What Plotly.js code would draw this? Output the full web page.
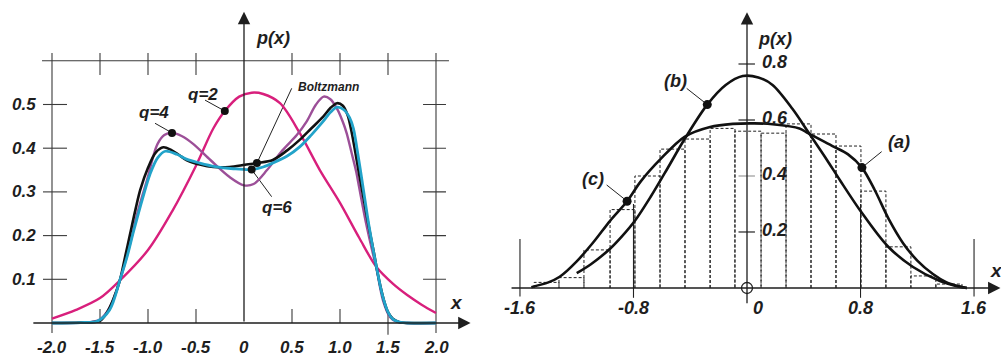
<!DOCTYPE html>
<html><head><meta charset="utf-8">
<script src="https://cdn.plot.ly/plotly-3.0.1.min.js"></script>
<style>html,body{margin:0;padding:0;background:#fff;overflow:hidden}#chart{width:1001px;height:356px}</style>
</head><body><div id="chart"></div>
<script>
// ---------- LEFT PANEL DATA ----------
const q2X = [-2.0,-1.75,-1.5,-1.29,-1.0,-0.75,-0.5,-0.32,-0.2,-0.05,0.08,0.2,0.375,0.58,0.79,1.0,1.2,1.38,1.55,1.7,1.85,2.0];
const q2Y = [0.010,0.030,0.057,0.098,0.167,0.255,0.36,0.445,0.485,0.518,0.527,0.524,0.503,0.435,0.35,0.275,0.195,0.128,0.09,0.064,0.042,0.023];

const q4X = [-2.0,-1.6,-1.5,-1.4,-1.29,-1.2,-1.1,-1.0,-0.95,-0.9,-0.83,-0.75,-0.65,-0.53,-0.35,-0.15,0.0,0.1,0.24,0.4,0.55,0.65,0.75,0.83,0.9,0.97,1.03,1.07,1.12,1.17,1.2,1.27,1.35,1.38,1.45,1.52,1.59,1.7,2.0];
const q4Y = [0,0.002,0.008,0.035,0.10,0.17,0.26,0.335,0.378,0.41,0.43,0.435,0.428,0.41,0.373,0.334,0.315,0.318,0.35,0.395,0.43,0.46,0.5,0.518,0.512,0.49,0.46,0.434,0.39,0.345,0.31,0.23,0.152,0.125,0.05,0.014,0.003,0,0];

const q6X = [-2.0,-1.7,-1.53,-1.4,-1.29,-1.22,-1.15,-1.05,-0.98,-0.9,-0.82,-0.7,-0.6,-0.46,-0.3,-0.11,0.08,0.2,0.3,0.45,0.58,0.7,0.82,0.9,0.97,1.04,1.1,1.14,1.18,1.23,1.3,1.38,1.44,1.5,1.55,1.62,1.7,2.0];
const q6Y = [0,0.001,0.004,0.03,0.10,0.15,0.21,0.29,0.34,0.378,0.393,0.386,0.375,0.366,0.358,0.353,0.351,0.357,0.366,0.382,0.403,0.43,0.46,0.482,0.494,0.488,0.47,0.445,0.395,0.325,0.225,0.128,0.065,0.025,0.009,0.002,0,0];

const boltzX = [-2.0,-1.7,-1.5,-1.43,-1.36,-1.29,-1.24,-1.19,-1.13,-1.08,-1.0,-0.92,-0.84,-0.76,-0.68,-0.6,-0.45,-0.32,-0.15,0.01,0.135,0.3,0.45,0.58,0.7,0.82,0.9,0.97,1.03,1.08,1.12,1.16,1.2,1.25,1.3,1.35,1.38,1.42,1.46,1.5,1.55,1.62,1.7,2.0];
const boltzY = [0,0.001,0.005,0.023,0.055,0.10,0.15,0.20,0.26,0.305,0.355,0.39,0.402,0.396,0.385,0.373,0.362,0.357,0.357,0.362,0.366,0.373,0.395,0.419,0.445,0.471,0.492,0.503,0.497,0.475,0.438,0.39,0.34,0.28,0.22,0.165,0.128,0.085,0.05,0.025,0.01,0.002,0,0];

const leftXTicks = [-2.0,-1.5,-1.0,-0.5,0,0.5,1.0,1.5,2.0];
const leftXTickText = ['-2.0','-1.5','-1.0','-0.5','0','0.5','1.0','1.5','2.0'];
const leftYTicks = [0.1,0.2,0.3,0.4,0.5];
const leftYTickText = ['0.1','0.2','0.3','0.4','0.5'];

// ---------- RIGHT PANEL DATA ----------
const histEdges = [-1.50,-1.325,-1.149,-0.965,-0.79,-0.613,-0.437,-0.26,-0.085,0.099,0.275,0.451,0.627,0.803,0.979,1.155,1.331,1.515];
const histHeights = [0.02,0.037,0.136,0.28,0.40,0.496,0.532,0.57,0.56,0.553,0.586,0.55,0.507,0.346,0.147,0.043,0.014];

const curveAX = [-1.52,-1.4,-1.32,-1.2,-1.08,-0.965,-0.845,-0.75,-0.61,-0.44,-0.26,-0.1,0.05,0.18,0.37,0.43,0.61,0.71,0.81,0.9,1.0,1.1,1.2,1.31,1.4,1.5,1.55];
const curveAY = [0.003,0.02,0.04,0.095,0.165,0.24,0.31,0.38,0.46,0.54,0.575,0.586,0.588,0.585,0.57,0.553,0.505,0.478,0.43,0.35,0.245,0.16,0.098,0.05,0.022,0.005,0];

const curveBX = [-1.2,-1.1,-0.965,-0.88,-0.79,-0.68,-0.58,-0.43,-0.28,-0.15,-0.03,0.08,0.18,0.32,0.43,0.56,0.655,0.8,0.99,1.17,1.36,1.5,1.55];
const curveBY = [0.053,0.085,0.14,0.185,0.24,0.325,0.41,0.54,0.655,0.725,0.757,0.752,0.725,0.64,0.558,0.46,0.385,0.275,0.15,0.075,0.025,0.004,0];

const rightXTicks = [-1.6,-0.8,0,0.8,1.6];
const rightXTickText = ['-1.6','-0.8','0','0.8','1.6'];
const rightYTicks = [0.2,0.4,0.6,0.8];
const rightYTickText = ['0.2','0.4','0.6','0.8'];

// ---------- labelled points (series + index into that series) ----------
const leftLabels = [
  {text:'q=2', xs:q2X, ys:q2Y, i:8,  lx:-0.43, ly:0.523, sx:-0.406, sy:0.510, size:17},
  {text:'q=4', xs:q4X, ys:q4Y, i:11, lx:-0.94, ly:0.481, sx:-0.927, sy:0.457, size:17},
  {text:'Boltzmann', xs:boltzX, ys:boltzY, i:20, lx:0.885, ly:0.541, sx:0.497, sy:0.537, size:12},
  {text:'q=6', xs:q6X, ys:q6Y, i:16, lx:0.345, ly:0.265, sx:0.288, sy:0.289, size:17}
];
const rightLabels = [
  {text:'(b)', xs:curveBX, ys:curveBY, i:8,  lx:-0.507, ly:0.738, sx:-0.425, sy:0.713},
  {text:'(a)', xs:curveAX, ys:curveAY, i:18, lx:1.068, ly:0.523, sx:0.949, sy:0.487},
  {text:'(c)', xs:curveAX, ys:curveAY, i:6,  lx:-1.085, ly:0.388, sx:-0.989, sy:0.368}
];

const FONT = 'Liberation Sans, Arial, Helvetica, sans-serif';
const INK = '#1e1e1e';
const traces = [];

function curve(xs, ys, color, w, xa, ya){
  return {x:xs, y:ys, type:'scatter', mode:'lines', xaxis:xa, yaxis:ya,
    line:{color:color, width:w, shape:'spline', smoothing:0.9}, hoverinfo:'skip'};
}
traces.push(curve(q2X,q2Y,'#d81f7c',2.4,'x','y'));
traces.push(curve(q4X,q4Y,'#9c4f98',2.4,'x','y'));
traces.push(curve(boltzX,boltzY,'#111111',2.6,'x','y'));
traces.push(curve(q6X,q6Y,'#22a3c9',2.8,'x','y'));

// histogram outline (dashed) built from edges / heights
const hx = [], hy = [];
histHeights.forEach((h,k)=>{
  const a = histEdges[k], b = histEdges[k+1];
  hx.push(a,a,b,b,null); hy.push(0,h,h,0,null);
});
traces.push({x:hx, y:hy, type:'scatter', mode:'lines', xaxis:'x2', yaxis:'y2',
  line:{color:'#222', width:1, dash:'3px,2px'}, hoverinfo:'skip', connectgaps:false});
traces.push(curve(curveAX,curveAY,'#111111',2.6,'x2','y2'));
traces.push(curve(curveBX,curveBY,'#111111',2.6,'x2','y2'));

// markers on curves
traces.push({x:leftLabels.map(l=>l.xs[l.i]), y:leftLabels.map(l=>l.ys[l.i]), type:'scatter', mode:'markers',
  xaxis:'x', yaxis:'y', marker:{color:'#111', size:8}, hoverinfo:'skip'});
traces.push({x:rightLabels.map(l=>l.xs[l.i]), y:rightLabels.map(l=>l.ys[l.i]), type:'scatter', mode:'markers',
  xaxis:'x2', yaxis:'y2', marker:{color:'#111', size:9}, hoverinfo:'skip'});
// origin open circle on right panel
traces.push({x:[rightXTicks[2]], y:[0], type:'scatter', mode:'markers', xaxis:'x2', yaxis:'y2',
  marker:{color:'#fff', size:11, line:{color:'#222', width:1.3}}, hoverinfo:'skip', cliponaxis:false});

// ---------- shapes ----------
const shapes = [];
function ln(xr, yr, x0, y0, x1, y1, color, w){
  shapes.push({type:'line', xref:xr, yref:yr, x0:x0, y0:y0, x1:x1, y1:y1, line:{color:color||'#3a3a3a', width:w||1.1}, layer:'below'});
}
// left frame
ln('x','y',-2.104,0.6,2.135,0.6);
ln('x','y',leftXTicks[0],-0.023,leftXTicks[0],0.618);
ln('x','y',leftXTicks[8],-0.023,leftXTicks[8],0.618);
leftXTicks.forEach(v=>{
  if (Math.abs(v) > 1.9 || v === 0) return;
  ln('x','y',v,0.5675,v,0.618);          // top ticks
  if (v === 1.5) ln('x','y',v,-0.027,v,0.03);
  else ln('x','y',v,0,v,0.032);         // bottom ticks
});
leftYTicks.forEach(v=>{
  ln('x','y',-2.094,v,-1.844,v);
  ln('x','y',1.865,v,2.104,v);
});
// right ticks
rightXTicks.forEach(v=>{
  if (v === 0) return;
  if (Math.abs(v) > 1.5) ln('x2','y2',v,-0.03,v,0.175,'#222',1.1);
  else ln('x2','y2',v,-0.035,v,0.3,'#222',1.1);
});
rightYTicks.forEach(v=>{
  ln('x2','y2',-0.06,v,0.056,v, v===0.4 ? '#9a9a9a' : '#222', 1.2);
});
// leader lines
leftLabels.forEach(l=>ln('x','y',l.sx,l.sy,l.xs[l.i],l.ys[l.i],'#222',1));
rightLabels.forEach(l=>ln('x2','y2',l.sx,l.sy,l.xs[l.i],l.ys[l.i],'#222',1));

// ---------- annotations ----------
const ann = [];
function arrow(xr, yr, x, y, ax, ay){
  ann.push({xref:xr, yref:yr, axref:xr, ayref:yr, x:x, y:y, ax:ax, ay:ay, text:'',
    showarrow:true, arrowhead:2, arrowsize:1.9, arrowwidth:1.3, arrowcolor:'#1e1e1e', standoff:0, startstandoff:0});
}
arrow('x','y',2.36,0,-2.21,0);
arrow('x','y',0,0.712,0,0);
arrow('x2','y2',1.786,0,-1.67,0);
arrow('x2','y2',0,0.985,0,-0.06);

function txt(xr, yr, x, y, s, size, xanchor, extra){
  ann.push(Object.assign({xref:xr, yref:yr, x:x, y:y, text:'<b><i>'+s+'</i></b>', showarrow:false,
    xanchor:xanchor||'center', yanchor:'middle', font:{family:FONT, size:size, color:INK}}, extra||{}));
}
leftXTicks.forEach((v,k)=>txt('x','y',v,-0.056,leftXTickText[k],17,'center'));
leftYTicks.forEach((v,k)=>txt('x','y',-2.15,v,leftYTickText[k],17,'right'));
txt('x','y',0.1,0.652,'p(x)',18,'left');
txt('x','y',2.13,0.046,'x',19,'left');
leftLabels.forEach(l=>txt('x','y',l.lx,l.ly,l.text,l.size,'center'));

rightXTicks.forEach((v,k)=>txt('x2','y2',v,-0.072,rightXTickText[k],18,'center', v===0?{xshift:11}:{}));
rightYTicks.forEach((v,k)=>txt('x2','y2',0.095,v+0.008,rightYTickText[k],18,'left'));
txt('x2','y2',0.065,0.888,'p(x)',18,'left');
txt('x2','y2',1.70,0.064,'x',19,'left');
rightLabels.forEach(l=>txt('x2','y2',l.lx,l.ly,l.text,18,'center'));

const layout = {
  width:1001, height:356, margin:{l:0,r:0,t:0,b:0},
  paper_bgcolor:'#fff', plot_bgcolor:'#fff', showlegend:false,
  xaxis:{domain:[0,0.5], range:[-2.5417,2.6719], visible:false, fixedrange:true},
  yaxis:{domain:[0,1], range:[-0.0755,0.7391], visible:false, fixedrange:true},
  xaxis2:{domain:[0.5,1], range:[-1.7372,1.790], visible:false, anchor:'y2', fixedrange:true},
  yaxis2:{domain:[0,1], range:[-0.2429,1.0286], visible:false, anchor:'x2', fixedrange:true},
  shapes:shapes, annotations:ann
};
Plotly.newPlot('chart', traces, layout, {staticPlot:true, displayModeBar:false});
</script></body></html>
